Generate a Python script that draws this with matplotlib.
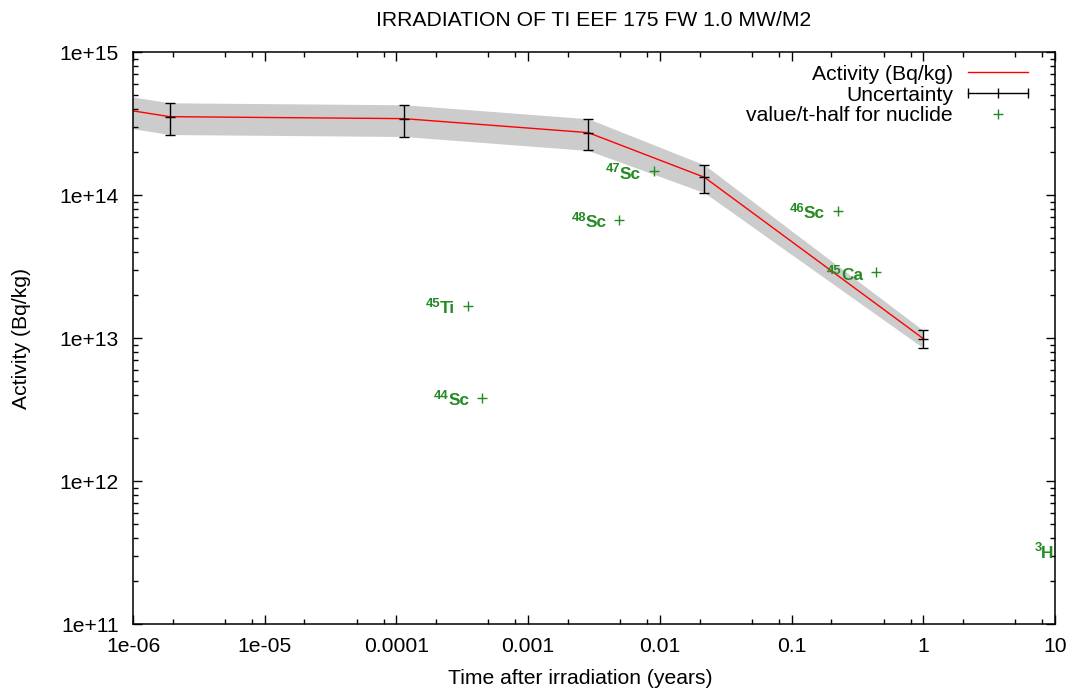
import numpy as np
import matplotlib.pyplot as plt
from matplotlib.lines import Line2D
from matplotlib.legend_handler import HandlerLine2D

plt.rcParams['font.family'] = ['Liberation Sans', 'DejaVu Sans']

# activity after irradiation (years, Bq/kg) and relative uncertainty
times = [3.17e-8, 1.9e-6, 1.14e-4, 2.86e-3, 0.0218, 1.0]
activity = [6.4e14, 3.53e14, 3.42e14, 2.73e14, 1.33e14, 9.9e12]
rel_unc = [0.25, 0.25, 0.25, 0.25, 0.22, 0.14]

# nuclides: half-life (years) and value
nuclides = ['47', '48', '46', '45', '45', '44', '3']
symbols = ['Sc', 'Sc', 'Sc', 'Ca', 'Ti', 'Sc', 'H']
half_life = [9.04e-3, 4.93e-3, 0.2245, 0.4385, 3.47e-4, 4.49e-4, 12.32]
nuc_value = [1.47e14, 6.69e13, 7.77e13, 2.88e13, 1.68e13, 3.83e12, 3.29e11]

xticks = [1e-6, 1e-5, 1e-4, 1e-3, 1e-2, 1e-1, 1, 10]
xlabels = ['1e-06', '1e-05', '0.0001', '0.001', '0.01', '0.1', '1', '10']
yticks = [1e11, 1e12, 1e13, 1e14, 1e15]
ylabels = ['1e+11', '1e+12', '1e+13', '1e+14', '1e+15']

green = '#228b22'
fs = 15.2

fig = plt.figure(figsize=(10.77, 6.93), dpi=100)
ax = fig.add_axes([133 / 1077, 1 - 624 / 693, 922 / 1077, 572 / 693])

t = np.array(times)
a = np.array(activity)
err = a * np.array(rel_unc)
ax.fill_between(t, a - err, a + err, color='#cccccc', lw=0)
ax.plot(t, a, color='red', lw=1)
ax.errorbar(t, a, yerr=err, fmt='_', color='black', ms=7, mew=1,
            elinewidth=1, capsize=3.6, capthick=1)

ax.plot(half_life, nuc_value, '+', color=green, ms=7, mew=1)
for n, s, x, y in zip(nuclides, symbols, half_life, nuc_value):
    main = ax.annotate(s, (x, y), xytext=(-9.5, -5.4),
                       textcoords='offset points', ha='right', va='baseline',
                       color=green, fontsize=12.4, fontweight='bold',
                       annotation_clip=False)
    ax.annotate(n, (0, 0), xycoords=main, xytext=(0.6, 6.6),
                textcoords='offset points', ha='right', va='baseline',
                color=green, fontsize=9.4, fontweight='bold',
                annotation_clip=False)

ax.set_xscale('log')
ax.set_yscale('log')
ax.set_xlim(1e-6, 10)
ax.set_ylim(1e11, 1e15)
ax.set_xticks(xticks, xlabels)
ax.set_yticks(yticks, ylabels)
xminor = [d * m for d in xticks[:-1] for m in (2, 5, 8)]
yminor = [d * m for d in yticks[:-1] for m in range(2, 10)]
ax.set_xticks(xminor, minor=True)
ax.set_yticks(yminor, minor=True)
ax.xaxis.set_minor_formatter(plt.NullFormatter())
ax.yaxis.set_minor_formatter(plt.NullFormatter())
ax.tick_params(which='both', direction='in', top=True, right=True,
               labelsize=fs, width=1)
ax.tick_params(which='major', length=6.5)
ax.tick_params(which='minor', length=3.6)
ax.tick_params(axis='x', pad=9)
ax.tick_params(axis='y', pad=10)
for sp in ax.spines.values():
    sp.set_linewidth(1.1)

fig.text(594 / 1077, 1 - 20 / 693, 'IRRADIATION OF TI EEF 175 FW 1.0 MW/M2',
         ha='center', va='center', fontsize=fs)
fig.text(580 / 1077, 1 - 678 / 693, 'Time after irradiation (years)',
         ha='center', va='center', fontsize=fs)
fig.text(22 / 1077, 1 - 338 / 693, 'Activity (Bq/kg)', rotation=90,
         ha='center', va='center', fontsize=fs)

h_act = Line2D([], [], color='red', lw=1)
h_unc = Line2D([], [], color='black', lw=1, marker='|', ms=7, mew=1)
h_nuc = Line2D([], [], color=green, ls='none', marker='+', ms=7, mew=1)
ax.legend([h_act, h_unc, h_nuc],
          ['Activity (Bq/kg)', 'Uncertainty', 'value/t-half for nuclide'],
          handler_map={h_unc: HandlerLine2D(numpoints=3, marker_pad=0)},
          loc='upper right', bbox_to_anchor=(0.9707, 0.9775),
          frameon=False, markerfirst=False, borderpad=0, borderaxespad=0,
          labelspacing=0.08, handlelength=2.85, handletextpad=0.7, fontsize=fs)

fig.savefig('out.png', dpi=100)
